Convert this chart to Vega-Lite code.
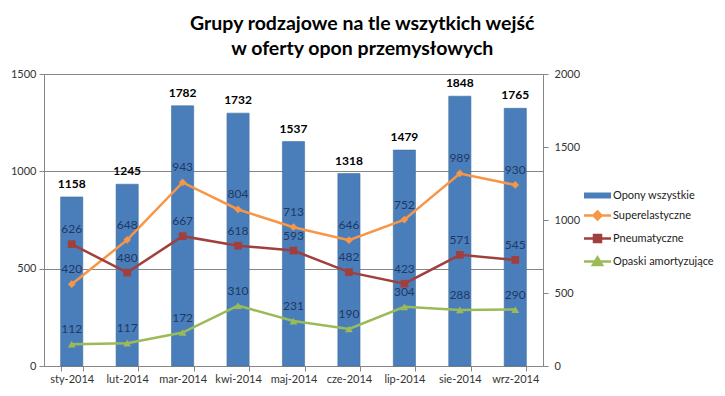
{
  "$schema": "https://vega.github.io/schema/vega-lite/v6.json",
  "width": 499,
  "height": 292,
  "padding": {"left": 10, "top": 13, "right": 5, "bottom": 5},
  "background": "white",
  "title": {
    "text": ["Grupy rodzajowe na tle wszytkich wejść", "w oferty opon przemysłowych"],
    "font": "Lato",
    "fontSize": 19.5,
    "fontWeight": "bold",
    "color": "#000000",
    "lineHeight": 25,
    "anchor": "middle",
    "frame": "bounds",
    "offset": 9
  },
  "config": {
    "view": {"stroke": null},
    "font": "Lato",
    "axis": {
      "labelFont": "Lato",
      "labelFontSize": 11,
      "labelColor": "#333333",
      "domainColor": "#868686",
      "tickColor": "#868686",
      "gridColor": "#868686",
      "tickSize": 5,
      "title": null
    },
    "legend": {
      "title": null,
      "orient": "none",
      "legendX": 548,
      "legendY": 116,
      "symbolSize": 100,
      "labelFont": "Lato",
      "labelFontSize": 11,
      "labelColor": "#222222",
      "labelOffset": 10,
      "rowPadding": 5
    }
  },
  "data": {
    "values": [
      {"month": "sty-2014", "series": "Opony wszystkie", "value": 1158},
      {"month": "lut-2014", "series": "Opony wszystkie", "value": 1245},
      {"month": "mar-2014", "series": "Opony wszystkie", "value": 1782},
      {"month": "kwi-2014", "series": "Opony wszystkie", "value": 1732},
      {"month": "maj-2014", "series": "Opony wszystkie", "value": 1537},
      {"month": "cze-2014", "series": "Opony wszystkie", "value": 1318},
      {"month": "lip-2014", "series": "Opony wszystkie", "value": 1479},
      {"month": "sie-2014", "series": "Opony wszystkie", "value": 1848},
      {"month": "wrz-2014", "series": "Opony wszystkie", "value": 1765},
      {"month": "sty-2014", "series": "Superelastyczne", "value": 420},
      {"month": "lut-2014", "series": "Superelastyczne", "value": 648},
      {"month": "mar-2014", "series": "Superelastyczne", "value": 943},
      {"month": "kwi-2014", "series": "Superelastyczne", "value": 804},
      {"month": "maj-2014", "series": "Superelastyczne", "value": 713},
      {"month": "cze-2014", "series": "Superelastyczne", "value": 646},
      {"month": "lip-2014", "series": "Superelastyczne", "value": 752},
      {"month": "sie-2014", "series": "Superelastyczne", "value": 989},
      {"month": "wrz-2014", "series": "Superelastyczne", "value": 930},
      {"month": "sty-2014", "series": "Pneumatyczne", "value": 626},
      {"month": "lut-2014", "series": "Pneumatyczne", "value": 480},
      {"month": "mar-2014", "series": "Pneumatyczne", "value": 667},
      {"month": "kwi-2014", "series": "Pneumatyczne", "value": 618},
      {"month": "maj-2014", "series": "Pneumatyczne", "value": 593},
      {"month": "cze-2014", "series": "Pneumatyczne", "value": 482},
      {"month": "lip-2014", "series": "Pneumatyczne", "value": 423},
      {"month": "sie-2014", "series": "Pneumatyczne", "value": 571},
      {"month": "wrz-2014", "series": "Pneumatyczne", "value": 545},
      {"month": "sty-2014", "series": "Opaski amortyzujące", "value": 112},
      {"month": "lut-2014", "series": "Opaski amortyzujące", "value": 117},
      {"month": "mar-2014", "series": "Opaski amortyzujące", "value": 172},
      {"month": "kwi-2014", "series": "Opaski amortyzujące", "value": 310},
      {"month": "maj-2014", "series": "Opaski amortyzujące", "value": 231},
      {"month": "cze-2014", "series": "Opaski amortyzujące", "value": 190},
      {"month": "lip-2014", "series": "Opaski amortyzujące", "value": 304},
      {"month": "sie-2014", "series": "Opaski amortyzujące", "value": 288},
      {"month": "wrz-2014", "series": "Opaski amortyzujące", "value": 290}
    ]
  },
  "layer": [
    {
      "transform": [{"filter": "datum.series === 'Opony wszystkie'"}],
      "encoding": {
        "x": {
          "field": "month", "type": "nominal", "sort": null,
          "scale": {"paddingInner": 0.6, "paddingOuter": 0.3},
          "axis": {"labelAngle": 0, "tickBand": "extent", "labelPadding": 2, "domainColor": "#868686"}
        },
        "y": {
          "field": "value", "type": "quantitative",
          "scale": {"domain": [0, 2000], "nice": false},
          "axis": {"orient": "right", "values": [0, 500, 1000, 1500, 2000], "grid": false, "labelPadding": 6, "format": "d"}
        }
      },
      "layer": [
        {
          "mark": {"type": "bar", "stroke": "#41719C", "strokeWidth": 0.6},
          "encoding": {
            "color": {
              "field": "series", "type": "nominal",
              "scale": {
                "domain": ["Opony wszystkie", "Superelastyczne", "Pneumatyczne", "Opaski amortyzujące"],
                "range": ["#4A7EBB", "#F79646", "#A0403E", "#9BBB59"]
              },
              "legend": {
                "encode": {
                  "symbols": {
                    "update": {
                      "shape": {"signal": "datum.value === 'Opony wszystkie' ? 'M-2.7,-0.6H2.7V0.6H-2.7Z' : datum.value === 'Superelastyczne' ? 'M-2.7,0H2.7M0,-0.8L0.8,0L0,0.8L-0.8,0Z' : datum.value === 'Pneumatyczne' ? 'M-2.7,0H2.7M-0.7,-0.7H0.7V0.7H-0.7Z' : 'M-2.7,0H2.7M0,-0.8L0.9,0.7H-0.9Z'"},
                      "fill": {"signal": "datum.value === 'Opony wszystkie' ? '#4A7EBB' : datum.value === 'Superelastyczne' ? '#F79646' : datum.value === 'Pneumatyczne' ? '#A0403E' : '#9BBB59'"},
                      "stroke": {"signal": "datum.value === 'Opony wszystkie' ? '#4A7EBB' : datum.value === 'Superelastyczne' ? '#F79646' : datum.value === 'Pneumatyczne' ? '#A0403E' : '#9BBB59'"},
                      "strokeWidth": {"signal": "datum.value === 'Opony wszystkie' ? 0 : 2.5"},
                      "opacity": {"value": 1}
                    }
                  }
                }
              }
            }
          }
        },
        {
          "mark": {"type": "text", "dy": -13, "baseline": "middle", "fontWeight": "bold", "fontSize": 12, "font": "Lato", "color": "#000000"},
          "encoding": {"text": {"field": "value", "type": "quantitative", "format": "d"}}
        }
      ]
    },
    {
      "transform": [{"filter": "datum.series !== 'Opony wszystkie'"}],
      "encoding": {
        "x": {
          "field": "month", "type": "nominal", "sort": null,
          "scale": {"paddingInner": 0.6, "paddingOuter": 0.3},
          "axis": {"labelAngle": 0, "tickBand": "extent", "labelPadding": 2, "domainColor": "#868686"}
        },
        "y": {
          "field": "value", "type": "quantitative",
          "scale": {"domain": [0, 1500], "nice": false},
          "axis": {"orient": "left", "values": [0, 500, 1000, 1500], "grid": true, "labelPadding": 3, "format": "d"}
        }
      },
      "layer": [
        {
          "mark": {"type": "line", "strokeWidth": 2.5},
          "encoding": {
            "color": {
              "field": "series", "type": "nominal",
              "legend": {
                "encode": {
                  "symbols": {
                    "update": {
                      "shape": {"signal": "datum.value === 'Opony wszystkie' ? 'M-2.7,-0.6H2.7V0.6H-2.7Z' : datum.value === 'Superelastyczne' ? 'M-2.7,0H2.7M0,-0.8L0.8,0L0,0.8L-0.8,0Z' : datum.value === 'Pneumatyczne' ? 'M-2.7,0H2.7M-0.7,-0.7H0.7V0.7H-0.7Z' : 'M-2.7,0H2.7M0,-0.8L0.9,0.7H-0.9Z'"},
                      "fill": {"signal": "datum.value === 'Opony wszystkie' ? '#4A7EBB' : datum.value === 'Superelastyczne' ? '#F79646' : datum.value === 'Pneumatyczne' ? '#A0403E' : '#9BBB59'"},
                      "stroke": {"signal": "datum.value === 'Opony wszystkie' ? '#4A7EBB' : datum.value === 'Superelastyczne' ? '#F79646' : datum.value === 'Pneumatyczne' ? '#A0403E' : '#9BBB59'"},
                      "strokeWidth": {"signal": "datum.value === 'Opony wszystkie' ? 0 : 2.5"},
                      "opacity": {"value": 1}
                    }
                  }
                }
              }
            }
          }
        },
        {
          "mark": {"type": "point", "filled": true, "opacity": 1, "size": 60},
          "encoding": {
            "color": {
              "field": "series", "type": "nominal",
              "legend": {
                "encode": {
                  "symbols": {
                    "update": {
                      "shape": {"signal": "datum.value === 'Opony wszystkie' ? 'M-2.7,-0.6H2.7V0.6H-2.7Z' : datum.value === 'Superelastyczne' ? 'M-2.7,0H2.7M0,-0.8L0.8,0L0,0.8L-0.8,0Z' : datum.value === 'Pneumatyczne' ? 'M-2.7,0H2.7M-0.7,-0.7H0.7V0.7H-0.7Z' : 'M-2.7,0H2.7M0,-0.8L0.9,0.7H-0.9Z'"},
                      "fill": {"signal": "datum.value === 'Opony wszystkie' ? '#4A7EBB' : datum.value === 'Superelastyczne' ? '#F79646' : datum.value === 'Pneumatyczne' ? '#A0403E' : '#9BBB59'"},
                      "stroke": {"signal": "datum.value === 'Opony wszystkie' ? '#4A7EBB' : datum.value === 'Superelastyczne' ? '#F79646' : datum.value === 'Pneumatyczne' ? '#A0403E' : '#9BBB59'"},
                      "strokeWidth": {"signal": "datum.value === 'Opony wszystkie' ? 0 : 2.5"},
                      "opacity": {"value": 1}
                    }
                  }
                }
              }
            },
            "shape": {
              "field": "series", "type": "nominal",
              "scale": {"domain": ["Superelastyczne", "Pneumatyczne", "Opaski amortyzujące"], "range": ["diamond", "square", "triangle-up"]},
              "legend": null
            }
          }
        },
        {
          "mark": {"type": "text", "dy": -15, "baseline": "middle", "fontSize": 12, "font": "Lato", "color": "#1F3864"},
          "encoding": {"text": {"field": "value", "type": "quantitative", "format": "d"}}
        }
      ]
    }
  ],
  "resolve": {"scale": {"y": "independent"}}
}
